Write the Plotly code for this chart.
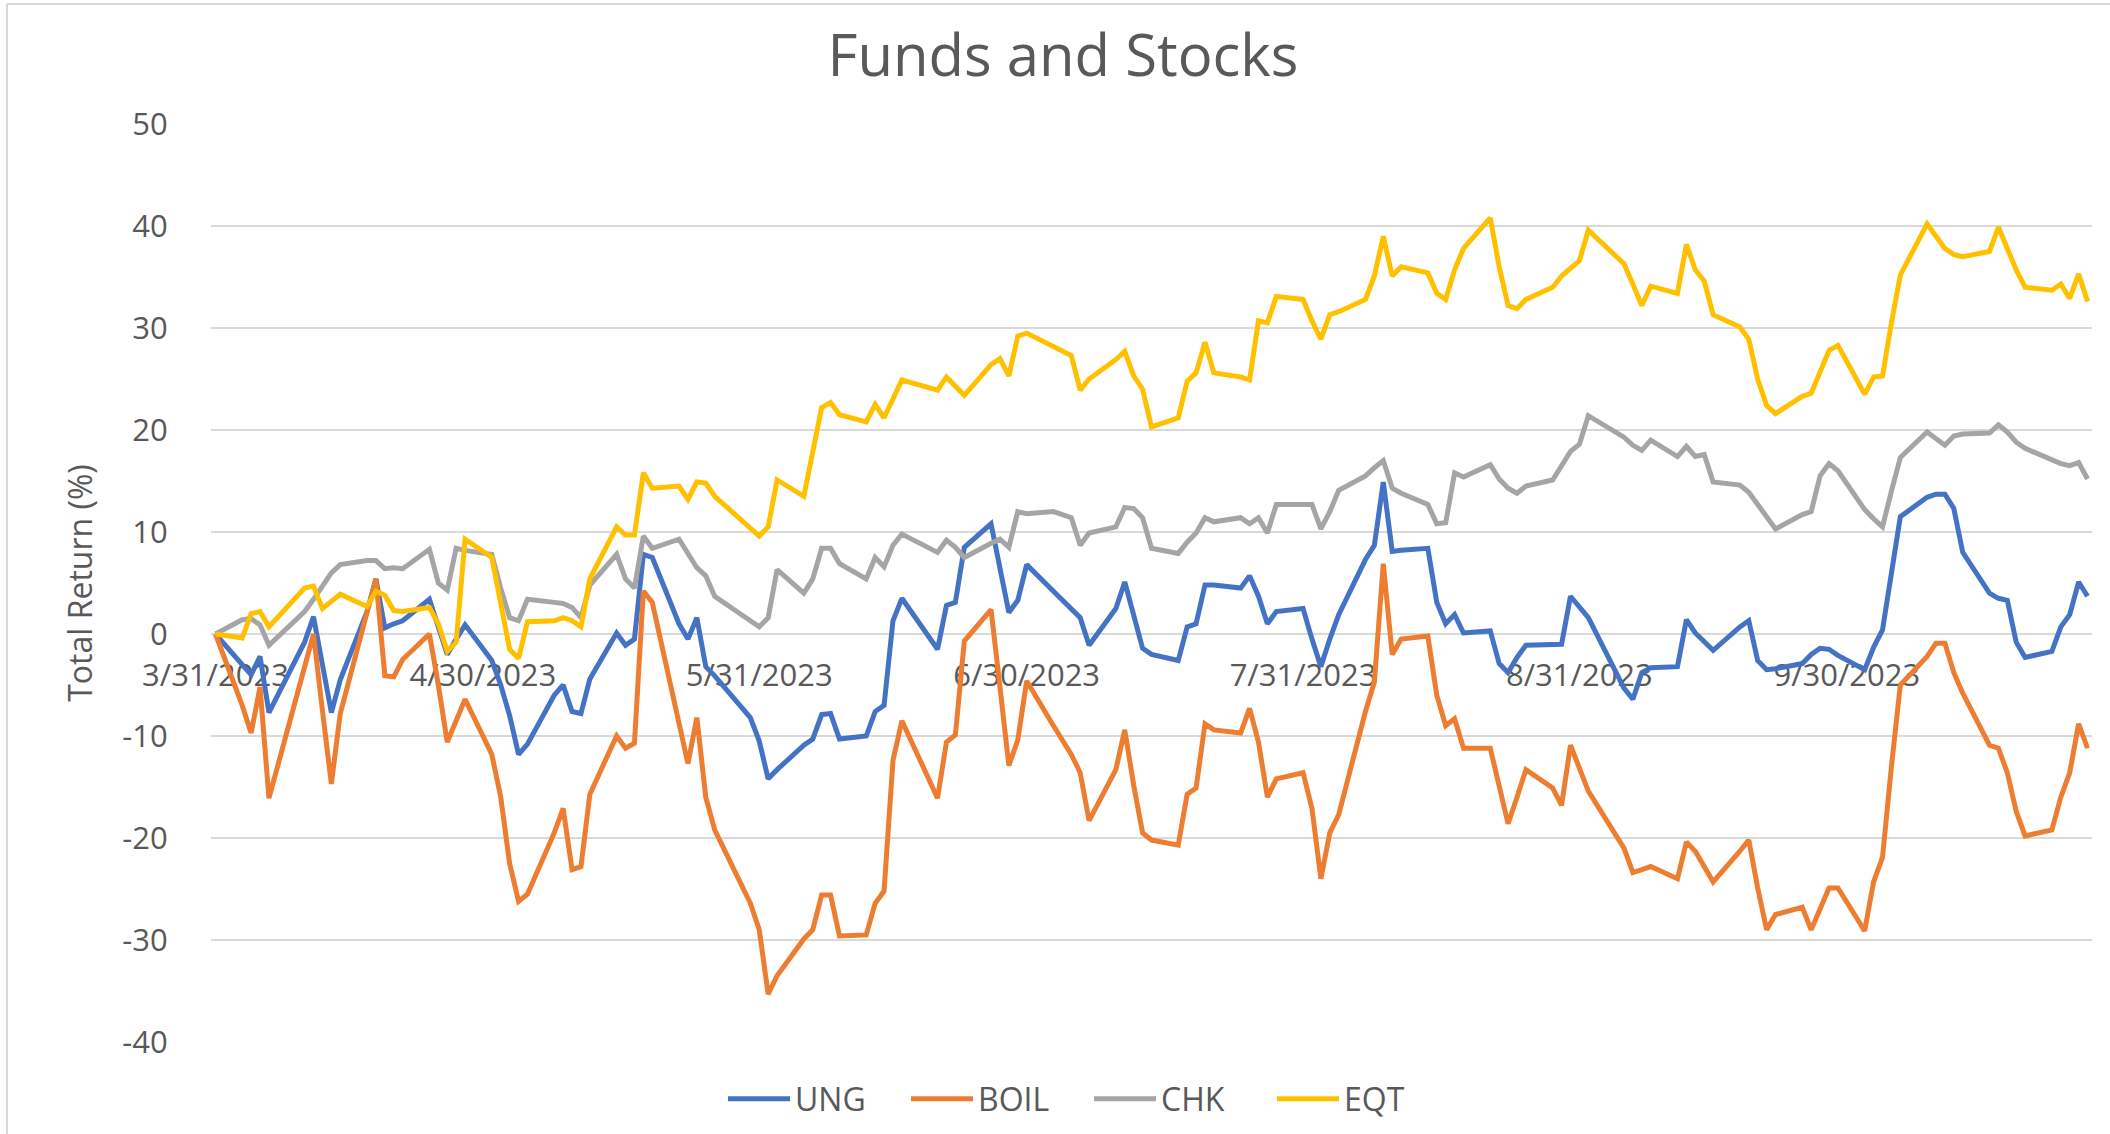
import pandas as pd
import plotly.graph_objects as go

# ---------------- data ----------------
# NYSE trading days, 3/31/2023 - 10/27/2023
market_holidays = ["2023-04-07", "2023-05-29", "2023-06-19", "2023-07-04", "2023-09-04"]
dates = pd.bdate_range("2023-03-31", "2023-10-27", freq="C", holidays=market_holidays)

ung = [0,
       -3.0, -4.0, -2.2, -7.7,
       -0.8, 1.7, -3.0, -7.7, -4.5,
       2.2, 5.4, 0.6, 1.0, 1.3,
       3.4, 0.5, -2.0, -0.5, 0.9,
       -2.6, -5.0, -8.0, -11.8, -10.8,
       -6.0, -5.0, -7.6, -7.8, -4.4,
       0.1, -1.1, -0.5, 7.8, 7.5,
       1.0, -0.5, 1.6, -3.2, -4.1,
       -8.2, -10.5, -14.2, -13.3,
       -10.9, -10.3, -7.9, -7.8, -10.3,
       -10.0, -7.6, -7.0, 1.3, 3.5,
       -1.5, 2.8, 3.1, 8.5,
       10.8, 6.5, 2.1, 3.3, 6.8,
       4.2, 2.5, 1.6, -1.1,
       2.5, 5.1, 1.9, -1.4, -2.0,
       -2.6, 0.7, 1.0, 4.8, 4.8,
       4.5, 5.7, 3.7, 1.0, 2.2,
       2.5, -0.5, -3.2, -0.5, 1.9,
       7.3, 8.7, 14.9, 8.1, 8.2,
       8.4, 3.1, 1.0, 1.9, 0.1,
       0.3, -2.9, -3.8, -2.3, -1.1,
       -1.1, -1.0, 3.7, 2.6, 1.6,
       -5.3, -6.4, -3.8, -3.3,
       -3.2, 1.4, 0.1, -0.8, -1.6,
       0.7, 1.3, -2.6, -3.5, -3.4,
       -2.9, -2.0, -1.4, -1.5, -2.1,
       -3.5, -1.3, 0.4, 6.0, 11.5,
       13.4, 13.7, 13.7, 12.3, 8.0,
       4.0, 3.5, 3.3, -0.8, -2.3,
       -1.7, 0.7, 1.9, 5.1, 3.7]

boil = [0,
        -7.0, -9.7, -5.2, -16.1,
        -3.0, 0.0, -7.5, -14.7, -7.8,
        2.0, 5.4, -4.1, -4.2, -2.5,
        0.0, -5.0, -10.6, -8.5, -6.4,
        -11.8, -16.0, -22.5, -26.2, -25.5,
        -19.5, -17.1, -23.1, -22.8, -15.7,
        -10.0, -11.2, -10.7, 4.2, 3.1,
        -8.5, -12.7, -8.2, -16.0, -19.2,
        -26.4, -29.0, -35.3, -33.5,
        -29.9, -29.0, -25.6, -25.6, -29.6,
        -29.5, -26.4, -25.2, -12.4, -8.5,
        -16.1, -10.6, -9.9, -0.7,
        2.4, -5.2, -12.9, -10.4, -4.6,
        -9.0, -11.8, -13.6, -18.3,
        -13.3, -9.4, -14.8, -19.5, -20.2,
        -20.7, -15.7, -15.1, -8.8, -9.4,
        -9.7, -7.3, -10.6, -16.0, -14.2,
        -13.6, -17.1, -24.0, -19.5, -17.7,
        -7.6, -4.7, 6.9, -2.0, -0.5,
        -0.2, -6.0, -9.0, -8.3, -11.2,
        -11.2, -14.8, -18.6, -16.0, -13.3,
        -15.1, -16.8, -10.9, -13.3, -15.4,
        -21.0, -23.4, -23.1, -22.8,
        -24.0, -20.4, -21.3, -22.8, -24.3,
        -21.3, -20.2, -24.9, -29.0, -27.5,
        -26.8, -29.0, -26.9, -24.9, -24.9,
        -29.1, -24.3, -21.9, -13.0, -5.0,
        -2.2, -0.9, -0.9, -3.8, -5.8,
        -10.9, -11.2, -13.6, -17.4, -19.8,
        -19.2, -16.0, -13.6, -8.8, -11.2]

chk = [0,
       1.4, 1.5, 0.9, -1.1,
       2.2, 3.4, 4.7, 6.0, 6.8,
       7.2, 7.2, 6.4, 6.5, 6.4,
       8.3, 5.0, 4.3, 8.4, 8.2,
       7.8, 4.5, 1.6, 1.3, 3.4,
       3.1, 3.0, 2.6, 1.6, 4.8,
       7.8, 5.4, 4.5, 9.6, 8.4,
       9.3, 8.0, 6.5, 5.7, 3.7,
       1.3, 0.7, 1.6, 6.3,
       4.0, 5.4, 8.4, 8.4, 6.9,
       5.4, 7.5, 6.6, 8.7, 9.8,
       8.0, 9.2, 8.5, 7.5,
       8.9, 9.3, 8.5, 12.0, 11.8,
       12.0, 11.4, 8.7, 9.9,
       10.5, 12.4, 12.3, 11.4, 8.4,
       7.9, 9.0, 9.9, 11.4, 11.0,
       11.4, 10.8, 11.4, 9.9, 12.7,
       12.7, 12.7, 10.3, 12.0, 14.1,
       15.5, 16.3, 17.0, 14.3, 13.8,
       12.7, 10.8, 10.9, 15.8, 15.4,
       16.6, 15.2, 14.3, 13.8, 14.5,
       15.1, 16.4, 17.9, 18.6, 21.4,
       19.3, 18.5, 18.0, 19.0,
       17.4, 18.4, 17.4, 17.6, 14.9,
       14.6, 13.9, 12.7, 11.4, 10.3,
       11.7, 12.0, 15.5, 16.7, 16.0,
       12.2, 11.3, 10.5, 14.0, 17.3,
       19.8, 19.2, 18.5, 19.4, 19.6,
       19.7, 20.5, 19.8, 18.8, 18.2,
       17.0, 16.7, 16.5, 16.8, 15.2]

eqt = [0,
       -0.4, 2.0, 2.2, 0.7,
       4.5, 4.7, 2.5, 3.2, 3.9,
       2.7, 4.2, 3.8, 2.3, 2.2,
       2.6, 1.0, -1.7, -0.8, 9.3,
       7.5, 3.0, -1.5, -2.4, 1.2,
       1.3, 1.6, 1.3, 0.7, 5.4,
       10.5, 9.7, 9.7, 15.8, 14.3,
       14.5, 13.2, 14.9, 14.8, 13.5,
       10.5, 9.6, 10.5, 15.1,
       13.5, 17.9, 22.2, 22.7, 21.5,
       20.8, 22.5, 21.2, 23.0, 24.9,
       23.9, 25.2, 24.3, 23.4,
       26.4, 27.0, 25.3, 29.2, 29.5,
       28.1, 27.3, 23.9, 25.0,
       26.9, 27.7, 25.3, 24.0, 20.3,
       21.2, 24.8, 25.6, 28.6, 25.6,
       25.2, 24.9, 30.7, 30.5, 33.1,
       32.8, 30.7, 28.9, 31.3, 31.6,
       32.8, 35.1, 39.0, 35.1, 36.0,
       35.4, 33.4, 32.8, 35.7, 37.8,
       40.8, 36.0, 32.2, 31.9, 32.8,
       34.0, 35.1, 35.9, 36.6, 39.6,
       36.3, 34.3, 32.2, 34.1,
       33.4, 38.2, 35.7, 34.6, 31.3,
       30.1, 28.9, 25.0, 22.4, 21.6,
       23.3, 23.6, 25.6, 27.8, 28.3,
       23.5, 25.2, 25.3, 30.5, 35.2,
       40.2, 39.0, 37.8, 37.2, 37.0,
       37.5, 39.9, 37.8, 35.7, 34.0,
       33.7, 34.3, 32.9, 35.3, 32.6]

series_names = ["UNG", "BOIL", "CHK", "EQT"]
series_values = [ung, boil, chk, eqt]
series_colors = ["#4472C4", "#ED7D31", "#A5A5A5", "#FFC000"]

x_tick_dates = ["2023-03-31", "2023-04-30", "2023-05-31", "2023-06-30",
                "2023-07-31", "2023-08-31", "2023-09-30"]
x_tick_labels = ["3/31/2023", "4/30/2023", "5/31/2023", "6/30/2023",
                 "7/31/2023", "8/31/2023", "9/30/2023"]
y_ticks = [-40, -30, -20, -10, 0, 10, 20, 30, 40, 50]
y_tick_labels = ["-40", "-30", "-20", "-10", "0", "10", "20", "30", "40", "50"]

for v in series_values:
    assert len(v) == len(dates), (len(v), len(dates))

# ---------------- figure ----------------
W, H = 2110, 1134
ML, MR, MT, MB = 211, 18, 124, 92
FONT = "Open Sans"
TXT = "#595959"
GRID = "#D9D9D9"

fig = go.Figure()
for name, vals, col in zip(series_names, series_values, series_colors):
    fig.add_trace(go.Scatter(
        x=dates, y=vals, name=name, mode="lines",
        line=dict(color=col, width=5),
    ))

ymin, ymax = y_ticks[0], y_ticks[-1]
zero_pos = (0 - ymin) / (ymax - ymin)

fig.update_layout(
    width=W, height=H,
    margin=dict(l=ML, r=MR, t=MT, b=MB, autoexpand=False),
    paper_bgcolor="white", plot_bgcolor="white",
    font=dict(family=FONT, color=TXT),
    title=dict(text="Funds and Stocks", font=dict(size=58, color=TXT, family=FONT),
               x=1063 / W, xanchor="center", xref="container",
               y=1 - 56 / H, yanchor="middle", yref="container"),
    showlegend=True,
    legend=dict(orientation="h", xref="container", yref="container",
                x=1089 / W, xanchor="center", y=1 - 1099 / H, yanchor="middle",
                font=dict(size=32, color=TXT, family=FONT),
                bgcolor="rgba(0,0,0,0)", itemwidth=62,
                entrywidth=106, entrywidthmode="pixels",
                traceorder="normal"),
    xaxis=dict(
        type="date",
        range=["2023-03-30 12:00", "2023-10-27 12:00"],
        tickmode="array", tickvals=x_tick_dates, ticktext=x_tick_labels,
        showgrid=False, zeroline=False,
        showline=True, linecolor=GRID, linewidth=1.5,
        anchor="free", position=zero_pos,
        ticks="outside", ticklen=14, tickcolor="rgba(0,0,0,0)",
        tickfont=dict(size=31, color=TXT, family=FONT),
        layer="below traces",
    ),
    yaxis=dict(
        range=[ymin, ymax], tickmode="array", tickvals=y_ticks, ticktext=y_tick_labels,
        showgrid=True, gridcolor=GRID, gridwidth=1.5,
        zeroline=False, showline=False,
        ticks="outside", ticklen=36, tickcolor="rgba(0,0,0,0)",
        tickfont=dict(size=31, color=TXT, family=FONT),
        title=dict(text="Total Return (%)", font=dict(size=32, color=TXT, family=FONT),
                   standoff=20),
        layer="below traces",
    ),
)

# chart-area border (left and top edges visible in the reference)
pw, ph = W - ML - MR, H - MT - MB
def px_to_paper_x(px):
    return (px - ML) / pw
def px_to_paper_y(py):
    return (H - MB - py) / ph
bx0, by0 = px_to_paper_x(7), px_to_paper_y(4)
fig.add_shape(type="line", xref="paper", yref="paper",
              x0=bx0, x1=px_to_paper_x(W + 5), y0=by0, y1=by0,
              line=dict(color=GRID, width=2))
fig.add_shape(type="line", xref="paper", yref="paper",
              x0=bx0, x1=bx0, y0=by0, y1=px_to_paper_y(H + 5),
              line=dict(color=GRID, width=2))

# remove the browser's default 8px page margin so the figure sits at (0, 0)
fig.write_html("out.html",
               config={"displayModeBar": False},
               post_script="document.body.style.margin='0';document.body.style.overflow='hidden';")
